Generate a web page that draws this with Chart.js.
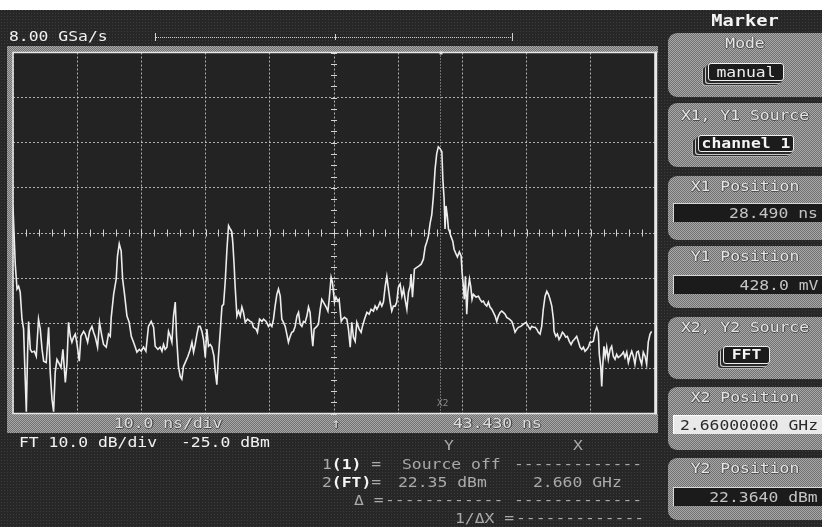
<!DOCTYPE html>
<html>
<head>
<meta charset="utf-8">
<title>FFT marker display</title>
<script src="https://cdn.jsdelivr.net/npm/chart.js@4.4.1/dist/chart.umd.min.js"></script>
<style>
  html, body { margin: 0; padding: 0; background: #ffffff; }
  #screen {
    position: relative; width: 822px; height: 527px; overflow: hidden;
    background-color: #272727;
    background-image: radial-gradient(circle, #3d3d3d 0.7px, transparent 0.9px);
    background-size: 3px 3px;
  }
  .band {
    position: absolute;
    background-color: #8d8d8d;
    background-image: repeating-conic-gradient(#a9a9a9 0 25%, #707070 0 50%);
    background-size: 2px 2px;
  }
  #plot { position: absolute; left: 0; top: 0; z-index: 1; }
  .t {
    position: absolute; z-index: 3;
    font-family: "DejaVu Sans Mono", monospace; font-size: 14px; line-height: 14px;
    white-space: pre; transform: scaleX(1.17); transform-origin: 0 50%;
  }
  .c { text-align: center; transform-origin: 50% 50%; }
  .r { text-align: right; transform-origin: 100% 50%; }
  .bright { color: #f2f2f2; }
  .dim { color: #a9a9a9; }
  .bar { color: #dedede; text-shadow: 1px 0 #4a4a4a, 0 1px #4a4a4a; }
  .btn { position: absolute; left: 668px; width: 160px; border-radius: 9px 0 0 9px; z-index: 2; }
  .ttl { color: #e6e6e6; text-shadow: 1px 0 #505050, 0 1px #505050, -1px 0 #707070; }
  .val {
    position: absolute; left: 673px; width: 152px; height: 18px; z-index: 2;
    background: #1b1b1b; border-top: 1px solid #d8d8d8; border-left: 1px solid #d8d8d8;
  }
  .val.light { background: #e9e9e9; border-color: #ffffff; }
  .chip {
    position: absolute; z-index: 2; background: #1c1c1c; border: 1px solid #eeeeee; border-radius: 3px;
    box-shadow: -2px 2px 0 #2a2a2a, -3px 3px 0 #c8c8c8, -5px 4px 0 #2a2a2a, -6px 5px 0 #b0b0b0;
  }
  .line { position: absolute; z-index: 2; }
</style>
</head>
<body>
<div id="screen">
  <div class="line" style="left:0;top:0;width:822px;height:10px;background:#ffffff;z-index:4"></div>

  <!-- frame bands around the graticule and the status bar -->
  <div class="band" style="left:7px;top:46px;width:651px;height:7px;"></div>
  <div class="band" style="left:7px;top:46px;width:6px;height:370px;"></div>
  <div class="band" style="left:7px;top:414px;width:651px;height:19px;"></div>

  <canvas id="plot" width="822" height="527"></canvas>

  <!-- acquisition header -->
  <div class="t bright" style="left:9px;top:29px;">8.00 GSa/s</div>
  <div class="line" style="left:155px;top:37px;width:358px;border-top:1px dotted #d0d0d0;"></div>
  <div class="line" style="left:155px;top:33px;width:1px;height:8px;background:#d0d0d0;"></div>
  <div class="line" style="left:512px;top:33px;width:1px;height:8px;background:#d0d0d0;"></div>
  <div class="line" style="left:335px;top:34px;width:1px;height:6px;background:#d0d0d0;"></div>

  <!-- status bar -->
  <div class="t bar" style="left:114px;top:416px;">10.0 ns/div</div>
  <div class="t bar" style="left:331px;top:416px;">↑</div>
  <div class="t bar" style="left:453px;top:416px;">43.430 ns</div>

  <!-- FFT scale and marker readout -->
  <div class="t bright" style="left:19px;top:435px;">FT 10.0 dB/div</div>
  <div class="t bright" style="left:181px;top:435px;">-25.0 dBm</div>
  <div class="t dim" style="left:444px;top:438px;">Y</div>
  <div class="t dim" style="left:573px;top:438px;">X</div>

  <div class="t dim" style="left:322px;top:457px;">1<b style="color:#f4f4f4">(1)</b> =</div>
  <div class="t dim" style="left:402px;top:457px;">Source off</div>
  <div class="t dim" style="left:514px;top:457px;">-------------</div>

  <div class="t dim" style="left:322px;top:475px;">2<b style="color:#f4f4f4">(FT)</b>=</div>
  <div class="t dim" id="y2read" style="left:398px;top:475px;"></div>
  <div class="t dim" id="x2read" style="left:533px;top:475px;"></div>

  <div class="t dim" style="left:354px;top:493px;">Δ =</div>
  <div class="t dim" style="left:385px;top:493px;">------------</div>
  <div class="t dim" style="left:514px;top:493px;">-------------</div>

  <div class="t dim" style="left:455px;top:511px;">1/ΔX =</div>
  <div class="t dim" style="left:516px;top:511px;">-------------</div>

  <!-- marker softkey panel -->
  <div class="t c" style="left:668px;width:154px;top:13px;font-weight:bold;font-size:16px;line-height:16px;color:#f4f4f4;">Marker</div>

  <div class="btn band" style="top:33px;height:64px;"></div>
  <div class="t c ttl" style="left:668px;width:154px;top:36px;">Mode</div>
  <div class="chip" style="left:708px;top:63px;width:74px;height:16px;"></div>
  <div class="t c" style="left:708px;width:76px;top:65px;color:#f0f0f0;">manual</div>

  <div class="btn band" style="top:103px;height:64px;"></div>
  <div class="t c ttl" style="left:668px;width:154px;top:108px;">X1, Y1 Source</div>
  <div class="chip" style="left:698px;top:135px;width:94px;height:15px;"></div>
  <div class="t c" style="left:698px;width:96px;top:136px;color:#f4f4f4;font-weight:bold;">channel 1</div>

  <div class="btn band" style="top:176px;height:64px;"></div>
  <div class="t c ttl" style="left:668px;width:154px;top:179px;">X1 Position</div>
  <div class="val" style="top:203px;"></div>
  <div class="t r" style="right:4px;top:206px;color:#c4c4c4;">28.490 ns</div>

  <div class="btn band" style="top:246px;height:62px;"></div>
  <div class="t c ttl" style="left:668px;width:154px;top:249px;">Y1 Position</div>
  <div class="val" style="top:275px;"></div>
  <div class="t r" style="right:4px;top:278px;color:#c4c4c4;">428.0 mV</div>

  <div class="btn band" style="top:317px;height:62px;"></div>
  <div class="t c ttl" style="left:668px;width:154px;top:320px;">X2, Y2 Source</div>
  <div class="chip" style="left:723px;top:346px;width:45px;height:16px;"></div>
  <div class="t c" style="left:723px;width:47px;top:347px;color:#f4f4f4;font-weight:bold;">FFT</div>

  <div class="btn band" style="top:387px;height:63px;"></div>
  <div class="t c ttl" style="left:668px;width:154px;top:390px;">X2 Position</div>
  <div class="val light" style="top:415px;"></div>
  <div class="t r" id="x2pos" style="right:4px;top:418px;color:#2a2a2a;"></div>

  <div class="btn band" style="top:458px;height:62px;"></div>
  <div class="t c ttl" style="left:668px;width:154px;top:461px;">Y2 Position</div>
  <div class="val" style="top:487px;"></div>
  <div class="t r" id="y2pos" style="right:4px;top:490px;color:#c4c4c4;"></div>

  <div class="t" style="left:437px;top:400px;font-size:8px;line-height:8px;color:#8c8c8c;">X2</div>
</div>

<script>
// FFT of channel 1: frequency bins (GHz) and magnitude (dBm)
const freqGHz = [
  0.000, 0.014, 0.025, 0.035, 0.045, 0.056, 0.066, 0.072, 0.083, 0.091, 0.097, 0.108, 0.118, 0.133, 0.145,
  0.159, 0.170, 0.181, 0.191, 0.207, 0.222, 0.232, 0.243, 0.253, 0.263, 0.274, 0.290, 0.299, 0.311, 0.326,
  0.336, 0.346, 0.357, 0.367, 0.377, 0.388, 0.399, 0.413, 0.423, 0.440, 0.450, 0.465, 0.477, 0.492, 0.502,
  0.513, 0.527, 0.539, 0.554, 0.564, 0.581, 0.595, 0.606, 0.612, 0.627, 0.643, 0.651, 0.662, 0.674, 0.683,
  0.695, 0.710, 0.724, 0.737, 0.751, 0.762, 0.772, 0.787, 0.799, 0.813, 0.828, 0.844, 0.861, 0.876, 0.886,
  0.903, 0.917, 0.928, 0.938, 0.948, 0.959, 0.969, 0.980, 0.990, 1.000, 1.011, 1.019, 1.031, 1.042, 1.052,
  1.062, 1.077, 1.090, 1.104, 1.115, 1.125, 1.135, 1.146, 1.156, 1.166, 1.177, 1.187, 1.198, 1.208, 1.218,
  1.229, 1.239, 1.252, 1.260, 1.270, 1.280, 1.291, 1.302, 1.312, 1.322, 1.333, 1.343, 1.353, 1.364, 1.370,
  1.378, 1.384, 1.395, 1.405, 1.416, 1.426, 1.436, 1.447, 1.461, 1.478, 1.488, 1.498, 1.515, 1.523, 1.536,
  1.551, 1.561, 1.577, 1.592, 1.602, 1.613, 1.623, 1.633, 1.644, 1.654, 1.665, 1.675, 1.685, 1.696, 1.706,
  1.716, 1.727, 1.737, 1.747, 1.758, 1.769, 1.779, 1.789, 1.800, 1.810, 1.820, 1.831, 1.841, 1.851, 1.862,
  1.868, 1.876, 1.893, 1.903, 1.914, 1.924, 1.934, 1.951, 1.962, 1.970, 1.982, 1.990, 2.003, 2.012, 2.024,
  2.032, 2.045, 2.053, 2.065, 2.080, 2.090, 2.101, 2.111, 2.121, 2.132, 2.142, 2.157, 2.169, 2.177, 2.190,
  2.205, 2.219, 2.231, 2.246, 2.256, 2.267, 2.277, 2.287, 2.298, 2.308, 2.319, 2.329, 2.339, 2.350, 2.360,
  2.370, 2.381, 2.391, 2.401, 2.412, 2.423, 2.433, 2.443, 2.454, 2.464, 2.474, 2.480, 2.489, 2.501, 2.516,
  2.530, 2.543, 2.557, 2.568, 2.578, 2.588, 2.599, 2.609, 2.619, 2.630, 2.640, 2.650, 2.661, 2.672, 2.678,
  2.686, 2.692, 2.698, 2.706, 2.713, 2.719, 2.728, 2.740, 2.748, 2.761, 2.769, 2.781, 2.792, 2.798, 2.806,
  2.812, 2.819, 2.827, 2.834, 2.844, 2.852, 2.860, 2.868, 2.885, 2.900, 2.910, 2.921, 2.931, 2.941, 2.952,
  2.962, 2.972, 2.983, 2.993, 3.004, 3.014, 3.024, 3.035, 3.045, 3.055, 3.066, 3.076, 3.093, 3.108, 3.118,
  3.128, 3.139, 3.149, 3.164, 3.180, 3.197, 3.211, 3.222, 3.232, 3.242, 3.253, 3.263, 3.273, 3.284, 3.294,
  3.304, 3.315, 3.326, 3.336, 3.346, 3.357, 3.367, 3.371, 3.382, 3.392, 3.402, 3.413, 3.423, 3.433, 3.444,
  3.454, 3.466, 3.477, 3.487, 3.497, 3.512, 3.522, 3.533, 3.544, 3.554, 3.564, 3.575, 3.585, 3.595, 3.606,
  3.616, 3.626, 3.637, 3.647, 3.653, 3.662, 3.668, 3.674, 3.682, 3.690, 3.699, 3.709, 3.720, 3.730, 3.740,
  3.751, 3.761, 3.771, 3.782, 3.793, 3.803, 3.813, 3.824, 3.834, 3.844, 3.855, 3.865, 3.875, 3.886, 3.896,
  3.907, 3.917, 3.927, 3.938, 3.948, 3.958, 3.969, 3.979
];
const levelDbm = [
  -19.2, -31.9, -37.4, -36.8, -38.1, -44.1, -46.3, -53.0, -64.6, -51.4, -44.6, -50.8, -51.4, -51.2, -52.3,
  -44.1, -46.3, -50.8, -53.4, -53.7, -45.9, -55.9, -61.9, -64.6, -55.9, -53.0, -54.1, -54.8, -50.8, -58.1,
  -54.1, -44.8, -47.9, -49.2, -48.1, -47.4, -49.7, -53.4, -47.9, -46.8, -47.4, -49.2, -46.8, -45.7, -47.0,
  -48.1, -50.3, -44.8, -47.9, -49.7, -50.3, -47.4, -47.9, -43.7, -38.6, -35.2, -30.1, -27.4, -29.0, -35.2,
  -38.6, -43.4, -44.8, -47.9, -49.2, -50.3, -51.4, -50.8, -51.2, -50.3, -51.2, -45.7, -44.6, -45.9, -50.1,
  -50.8, -50.3, -51.2, -49.7, -50.8, -50.3, -46.8, -47.9, -49.2, -43.4, -40.3, -47.9, -54.6, -56.8, -57.4,
  -54.6, -53.4, -52.3, -50.8, -49.2, -51.4, -49.7, -47.4, -45.7, -45.7, -46.8, -48.6, -52.6, -46.3, -50.1,
  -49.7, -50.3, -52.3, -55.7, -58.6, -52.3, -47.0, -41.2, -40.8, -35.9, -28.6, -23.4, -24.1, -24.8, -27.4,
  -32.3, -36.8, -43.4, -42.3, -43.4, -41.4, -42.6, -44.8, -44.1, -44.6, -44.8, -45.9, -46.3, -47.0, -44.1,
  -44.6, -44.1, -44.6, -45.7, -45.2, -45.7, -44.1, -41.2, -38.6, -37.4, -39.0, -44.1, -44.8, -45.7, -47.4,
  -49.2, -47.9, -47.0, -46.8, -45.7, -43.4, -42.6, -45.2, -45.7, -44.6, -44.8, -43.4, -41.4, -42.6, -47.9,
  -50.1, -46.3, -45.7, -45.2, -41.9, -39.7, -40.3, -41.4, -42.3, -39.7, -34.8, -35.9, -40.3, -39.2, -40.1,
  -39.7, -44.6, -44.1, -43.7, -44.1, -46.3, -50.3, -44.8, -48.1, -49.0, -44.8, -46.3, -47.0, -45.7, -44.1,
  -42.6, -43.0, -41.9, -42.3, -41.2, -41.9, -41.2, -40.3, -41.2, -40.3, -36.8, -34.6, -37.4, -40.3, -42.3,
  -41.2, -41.2, -40.3, -37.0, -36.3, -39.0, -37.4, -39.7, -41.9, -38.1, -36.8, -34.1, -39.2, -33.0, -32.6,
  -32.3, -31.9, -30.8, -28.1, -27.0, -25.7, -22.8, -21.0, -17.0, -10.8, -7.4, -5.9, -6.3, -7.0, -13.0,
  -17.4, -24.1, -19.0, -21.2, -24.1, -24.6, -25.7, -26.8, -28.6, -29.7, -30.3, -29.2, -30.1, -33.7, -36.8,
  -39.7, -34.6, -43.0, -38.1, -35.2, -36.8, -39.7, -38.6, -39.2, -39.0, -39.7, -40.3, -40.1, -40.8, -41.2,
  -40.3, -41.4, -41.9, -42.6, -43.4, -44.6, -43.4, -42.6, -42.3, -42.6, -43.0, -43.7, -44.1, -44.6, -45.7,
  -47.0, -46.3, -45.9, -45.7, -45.2, -44.8, -45.7, -46.3, -45.7, -45.9, -45.9, -46.3, -47.0, -47.4, -45.7,
  -41.9, -39.0, -37.9, -38.6, -39.7, -41.2, -44.1, -46.8, -47.9, -47.4, -48.6, -47.9, -47.0, -47.4, -48.1,
  -47.9, -49.0, -49.7, -49.0, -48.6, -47.9, -49.0, -50.3, -50.8, -50.3, -51.2, -50.8, -50.3, -49.2, -49.2,
  -49.0, -47.0, -45.9, -47.0, -51.9, -54.6, -59.0, -54.6, -50.1, -52.3, -50.3, -53.0, -50.8, -50.1, -52.3,
  -53.0, -51.9, -52.6, -52.3, -51.9, -51.4, -52.6, -51.4, -53.7, -52.3, -51.2, -52.3, -54.1, -51.4, -51.2,
  -53.0, -54.1, -51.4, -52.3, -54.1, -49.2, -47.4, -46.8
];

// Graticule: 10 horizontal divisions of 0.4 GHz, 8 vertical divisions of 10 dB
const spanGHz = [0, 4];
const freqPerDivGHz = 0.4;
const levelRangeDbm = [-65, 15];
const dbPerDiv = 10;
const refLevelDbm = -25;
const centerFreqGHz = 2.0;

// Marker 2 on the FFT trace
const markerX2GHz = 2.66;
const markerX2Text = '2.66000000 GHz';
const markerY2Text = '22.3640 dBm';
const readoutY2 = '22.35 dBm';
const readoutX2 = '2.660 GHz';

document.getElementById('x2pos').textContent = markerX2Text;
document.getElementById('y2pos').textContent = markerY2Text;
document.getElementById('y2read').textContent = readoutY2;
document.getElementById('x2read').textContent = readoutX2;

const tracePoints = freqGHz.map((f, i) => ({ x: f, y: levelDbm[i] }));

const scopeDecor = {
  id: 'scopeDecor',
  beforeDraw(chart) {
    const { ctx, chartArea: a } = chart;
    ctx.save();
    ctx.fillStyle = '#232323';
    ctx.fillRect(a.left, a.top, a.right - a.left, a.bottom - a.top);
    ctx.restore();
  },
  beforeDatasetsDraw(chart) {
    const { ctx, chartArea: a, scales: { x, y } } = chart;
    const yc = y.getPixelForValue(refLevelDbm);
    const xc = x.getPixelForValue(centerFreqGHz);
    ctx.save();
    ctx.strokeStyle = '#d2d2d2';
    ctx.lineWidth = 1;
    ctx.beginPath();
    // minor ticks along the centre axes: 5 per horizontal division, 4 per vertical division
    const minorX = freqPerDivGHz / 5;
    for (let f = spanGHz[0]; f <= spanGHz[1] + 1e-9; f += minorX) {
      const px = Math.round(x.getPixelForValue(f)) + 0.5;
      ctx.moveTo(px, yc - 3.5); ctx.lineTo(px, yc + 3.5);
    }
    const minorY = dbPerDiv / 4;
    for (let v = levelRangeDbm[0]; v <= levelRangeDbm[1] + 1e-9; v += minorY) {
      const py = Math.round(y.getPixelForValue(v)) + 0.5;
      ctx.moveTo(xc - 3, py); ctx.lineTo(xc + 3, py);
    }
    ctx.stroke();
    // X2 marker line
    const mx = Math.round(x.getPixelForValue(markerX2GHz)) + 0.5;
    ctx.strokeStyle = '#bdbdbd';
    ctx.setLineDash([1, 2]);
    ctx.beginPath();
    ctx.moveTo(mx, a.top); ctx.lineTo(mx, a.bottom);
    ctx.stroke();
    ctx.setLineDash([]);
    ctx.fillStyle = '#e0e0e0';
    ctx.fillRect(mx - 1, a.top - 1, 3, 3);
    ctx.restore();
  },
  afterDraw(chart) {
    const { ctx, chartArea: a } = chart;
    ctx.save();
    ctx.strokeStyle = '#e8e8e8';
    ctx.lineWidth = 1.5;
    ctx.strokeRect(a.left, a.top, a.right - a.left, a.bottom - a.top);
    ctx.lineWidth = 2.5;
    ctx.beginPath();
    ctx.moveTo(a.right + 1, a.top - 1); ctx.lineTo(a.right + 1, a.bottom + 1);
    ctx.stroke();
    ctx.restore();
  }
};

new Chart(document.getElementById('plot'), {
  type: 'line',
  data: {
    datasets: [{
      label: 'FFT',
      data: tracePoints,
      borderColor: '#ededed',
      borderWidth: 1.6,
      pointRadius: 0,
      tension: 0,
      fill: false
    }]
  },
  options: {
    responsive: false,
    animation: false,
    events: [],
    layout: { padding: { left: 13, top: 52.5, right: 167, bottom: 113.5 } },
    plugins: { legend: { display: false }, tooltip: { enabled: false } },
    scales: {
      x: {
        type: 'linear', min: spanGHz[0], max: spanGHz[1],
        ticks: { display: false, stepSize: freqPerDivGHz },
        grid: { color: 'rgba(210,210,210,0.8)', lineWidth: 1, drawTicks: false },
        border: { display: false, dash: [2, 2] }
      },
      y: {
        type: 'linear', min: levelRangeDbm[0], max: levelRangeDbm[1],
        ticks: { display: false, stepSize: dbPerDiv },
        grid: { color: 'rgba(210,210,210,0.8)', lineWidth: 1, drawTicks: false },
        border: { display: false, dash: [2, 2] }
      }
    }
  },
  plugins: [scopeDecor]
});
</script>
</body>
</html>
